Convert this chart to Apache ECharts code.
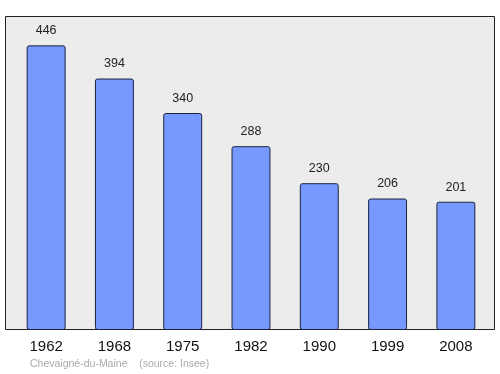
<!DOCTYPE html>
<html><head><meta charset="utf-8">
<script src="https://cdn.jsdelivr.net/npm/echarts@6/dist/echarts.min.js"></script>
<style>html,body{margin:0;padding:0;background:#fff}#c{width:500px;height:374px}</style>
</head><body><div id="c"></div>
<script>
const years = ['1962','1968','1975','1982','1990','1999','2008'];
const population = [446, 394, 340, 288, 230, 206, 201];
const chart = echarts.init(document.getElementById('c'), null, {renderer:'canvas'});
chart.setOption({
  animation: false,
  graphic: [
    {type:'rect', z:-10, shape:{x:5.5, y:16.5, width:489, height:313}, style:{fill:'#ececec', stroke:'#222', lineWidth:1}},
    {type:'text', left:30, top:359, style:{text:'Chevaigné-du-Maine    (source: Insee)', fill:'#aaaaaa', font:'10.5px "Liberation Sans", Arial, sans-serif'}}
  ],
  grid: {left:12, right:10, top:16, bottom:44},
  xAxis: {type:'category', data: years, axisLine:{show:false}, axisTick:{show:false},
    axisLabel:{color:'#111', fontSize:15, margin:9, fontFamily:'"Liberation Sans", Arial, sans-serif'}},
  yAxis: {type:'value', min:0, max:492, show:false, splitLine:{show:false}},
  series: [{type:'bar', data: population, barWidth:'57%',
    itemStyle:{color:'#7799ff', borderColor:'#1a2240', borderWidth:1, borderRadius:2},
    label:{show:true, position:'top', distance:8, color:'#222', fontSize:12.5, fontFamily:'"Liberation Sans", Arial, sans-serif'}}]
});
</script></body></html>
